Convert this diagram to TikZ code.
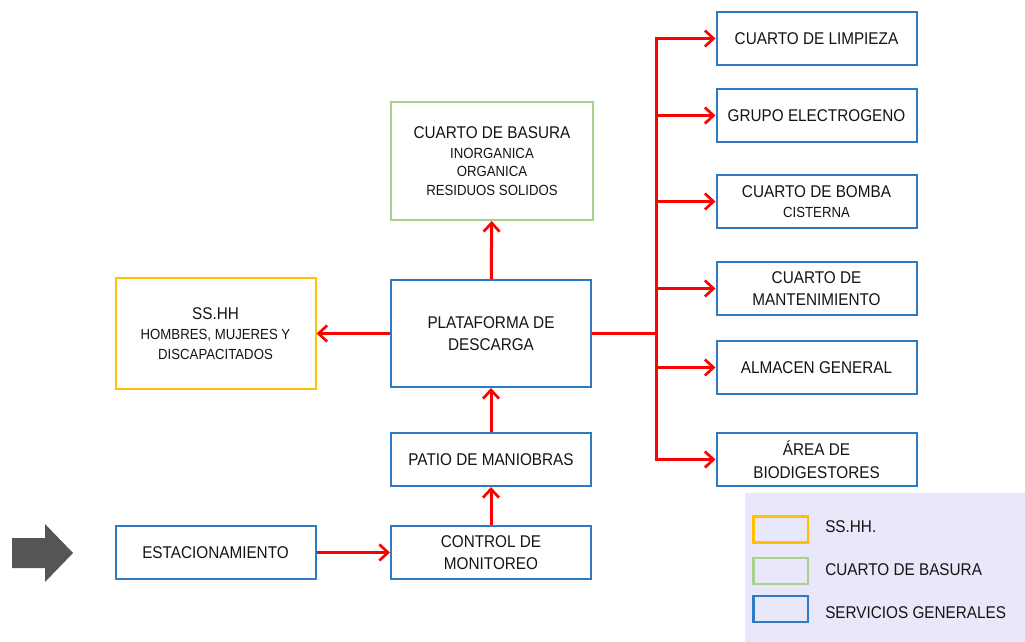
\documentclass[tikz,border=0pt]{standalone}
\usepackage{fontspec}
\setmainfont{Liberation Sans}[FakeStretch=0.9]
\usetikzlibrary{arrows.meta}
\definecolor{boxblue}{HTML}{2E7BC4}
\definecolor{boxgreen}{HTML}{A9D18E}
\definecolor{boxyellow}{HTML}{FFC000}
\definecolor{legbg}{HTML}{E8E8FA}
\definecolor{arrgray}{HTML}{555555}
\begin{document}
\begin{tikzpicture}[x=0.75pt,y=-0.75pt,
  bx/.style={draw=boxblue,line width=1.5pt,fill=white,inner sep=0pt,align=center,
     minimum width=150pt,minimum height=39.75pt,font=\fontsize{12.75pt}{17pt}\selectfont,text=black!92},
  gbx/.style={bx,draw=boxgreen},
  ybx/.style={bx,draw=boxyellow},
  arr/.style={draw=red,line width=2.25pt,-{Straight Barb[length=6.5pt,width=12pt,line width=2pt]}},
  ln/.style={draw=red,line width=2.25pt},
  legbox/.style={draw=#1,line width=2pt,fill=legbg,minimum width=41pt,minimum height=19.5pt,inner sep=0pt},
  legtxt/.style={anchor=west,inner sep=0pt,font=\fontsize{12.75pt}{15pt}\selectfont,text=black!92}
]
\useasboundingbox (0,0) rectangle (1025,642);
% legend background
\fill[legbg] (745,493) rectangle (1025,642);
% entry arrow
\fill[arrgray] (12,538) -- (45,538) -- (45,524) -- (73,553) -- (45,582) -- (45,568) -- (12,568) -- cycle;

\newcommand{\smalltxt}{\fontsize{11pt}{14pt}\selectfont}
\node[bx] (est) at (215.5,552.5) {ESTACIONAMIENTO};
\node[bx] (ctl) at (491,552.5) {CONTROL DE\\MONITOREO};
\node[bx] (pat) at (491,459.5) {PATIO DE MANIOBRAS};
\node[bx,minimum height=80.25pt] (pla) at (491,333.5) {PLATAFORMA DE\\DESCARGA};
\node[gbx,minimum width=151.5pt,minimum height=88.5pt] (bas) at (492,161)
  {CUARTO DE BASURA\\[-2pt]{\smalltxt INORGANICA}\\[-3pt]{\smalltxt ORGANICA}\\[-3pt]{\smalltxt RESIDUOS SOLIDOS}};
\node[ybx,minimum height=83.25pt] (ssh) at (215.5,333.5)
  {SS.HH\\[-2pt]{\smalltxt HOMBRES, MUJERES Y}\\[-2pt]{\smalltxt DISCAPACITADOS}};

\node[bx] (lim) at (816.5,38.5) {CUARTO DE LIMPIEZA};
\node[bx] (gru) at (816.5,115.5) {GRUPO ELECTROGENO};
\node[bx] (bom) at (816.5,201.5) {CUARTO DE BOMBA\\[-2pt]{\smalltxt CISTERNA}};
\node[bx] (man) at (816.5,288.5) {CUARTO DE\\MANTENIMIENTO};
\node[bx] (alm) at (816.5,367.5) {ALMACEN GENERAL};
\node[bx] (bio) at (816.5,459.5) {ÁREA DE\\BIODIGESTORES};

\coordinate (tr) at (656,333.5);
\draw[arr] (est) -- (ctl);
\draw[arr] (ctl) -- (pat);
\draw[arr] (pat) -- (pla);
\draw[arr] (pla) -- (bas);
\draw[arr] (pla) -- (ssh);
\draw[ln] (pla.east) -- (tr);
\draw[ln] (656,38.5) -- (656,459.5);
\foreach \t in {lim,gru,bom,man,alm,bio}{
  \draw[arr] (tr) |- (\t.west);
}

% legend
\node[legbox=boxyellow] (ly) at (780.5,529.5) {};
\node[legbox=boxgreen] (lg) at (780.5,571) {};
\node[legbox=boxblue] (lb) at (780.5,609) {};
\node[legtxt] (lyt) at (825,527) {SS.HH.};
\node[legtxt] (lgt) at (825,570) {CUARTO DE BASURA};
\node[legtxt] (lbt) at (825,613) {SERVICIOS GENERALES};
\end{tikzpicture}
\end{document}
